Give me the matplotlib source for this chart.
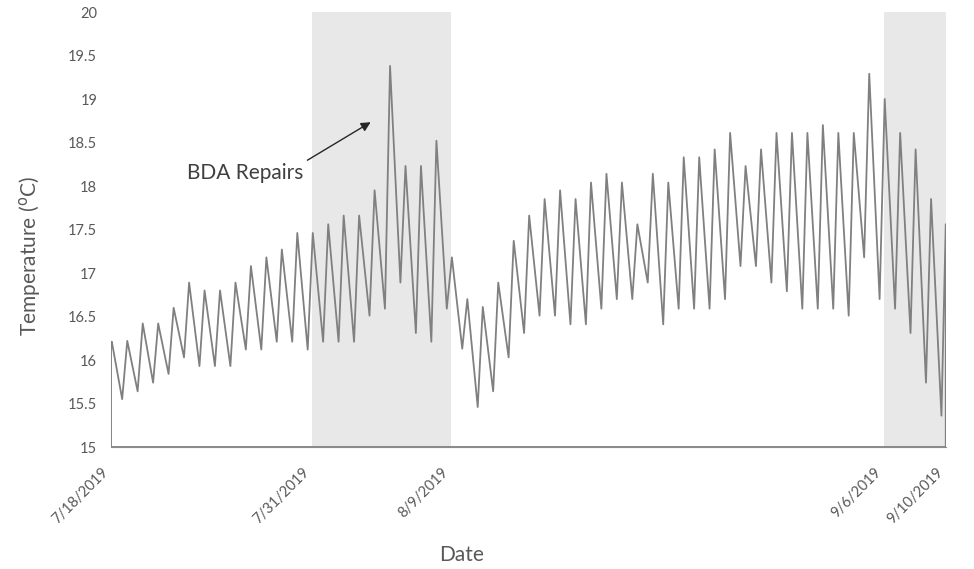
import pandas as pd
import numpy as np
import matplotlib
matplotlib.use('Agg')
import matplotlib.pyplot as plt

plt.rcParams['font.family'] = ['Lato', 'DejaVu Sans']

start = pd.Timestamp('2019-07-18')

# daily high (early morning) and daily low (evening), 7/18 .. 9/9
daily_peak = [16.21, 16.22, 16.42, 16.42, 16.60, 16.89, 16.80, 16.80, 16.89, 17.08,
              17.18, 17.27, 17.46, 17.46, 17.56, 17.66, 17.66, 17.95, 19.38, 18.23,
              18.23, 18.52, 17.18, 16.70, 16.61, 16.89, 17.37, 17.66, 17.85, 17.95,
              17.85, 18.04, 18.14, 18.04, 17.56, 18.14, 18.04, 18.33, 18.33, 18.42,
              18.61, 18.23, 18.42, 18.61, 18.61, 18.61, 18.70, 18.61, 18.61, 19.29,
              19.00, 18.61, 18.42, 17.85]
daily_low = [15.55, 15.64, 15.74, 15.84, 16.03, 15.93, 15.93, 15.93, 16.12, 16.12,
             16.21, 16.21, 16.12, 16.21, 16.21, 16.21, 16.51, 16.59, 16.89, 16.31,
             16.21, 16.59, 16.13, 15.46, 15.64, 16.03, 16.31, 16.51, 16.51, 16.41,
             16.41, 16.59, 16.70, 16.70, 16.89, 16.41, 16.59, 16.59, 16.59, 16.70,
             17.08, 17.08, 16.89, 16.79, 16.59, 16.59, 16.59, 16.51, 17.18, 16.70,
             16.59, 16.31, 15.74, 15.36]
first_reading = 16.15
last_reading = 17.56   # 9/10 00:00

shaded = [('2019-07-31', '2019-08-09'), ('2019-09-06', '2019-09-10')]
tick_dates = ['2019-07-18', '2019-07-31', '2019-08-09', '2019-09-06', '2019-09-10']
tick_labels = ['7/18/2019', '7/31/2019', '8/9/2019', '9/6/2019', '9/10/2019']

# build the time series: peak around 1am, low around 5pm
times = [start]
temps = [first_reading]
for k, (hi, lo) in enumerate(zip(daily_peak, daily_low)):
    day = start + pd.Timedelta(days=k)
    times += [day + pd.Timedelta(hours=1.2), day + pd.Timedelta(hours=17.3)]
    temps += [hi, lo]
times.append(pd.Timestamp('2019-09-10'))
temps.append(last_reading)

fig = plt.figure(figsize=(9.74, 5.69), dpi=100)
ax = fig.add_axes([0.114, 0.2144, 0.857, 0.7645])

for a, b in shaded:
    ax.axvspan(pd.Timestamp(a), pd.Timestamp(b), color='#e8e8e8', lw=0, zorder=0)

ax.fill_between(times, temps, 15, facecolor='none', edgecolor='#808080', lw=1.3, zorder=2)

ax.set_xlim(start, pd.Timestamp('2019-09-10'))
ax.set_ylim(15, 20)
ax.set_yticks(np.arange(15, 20.01, 0.5))
ax.set_yticklabels([f'{v:g}' for v in np.arange(15, 20.01, 0.5)])
ax.set_xticks([pd.Timestamp(d) for d in tick_dates])
ax.set_xticklabels(tick_labels, rotation=45, ha='right')
ax.tick_params(length=0, colors='#595959', labelsize=10.5)
ax.tick_params(axis='y', pad=10)
ax.tick_params(axis='x', pad=13)

for s in ['left', 'right', 'top']:
    ax.spines[s].set_visible(False)
ax.spines['bottom'].set_color('#8c8c8c')

ax.set_ylabel('Temperature ($^{\\mathrm{o}}$C)', fontsize=15, color='#595959')
ax.yaxis.set_label_coords(-0.081, 0.44)
ax.set_xlabel('Date', fontsize=15, color='#595959')
ax.xaxis.set_label_coords(0.42, -0.225)

# annotation
ax.annotate('', xy=(start + pd.Timedelta(days=16.95), 18.75),
            xytext=(start + pd.Timedelta(days=12.55), 18.28),
            arrowprops=dict(arrowstyle='-|>', color='#262626', lw=1, mutation_scale=14))
ax.text(start + pd.Timedelta(days=12.45), 18.15, 'BDA Repairs', ha='right', va='center',
        fontsize=15, color='#404040')

plt.savefig('out.png', dpi=100)
